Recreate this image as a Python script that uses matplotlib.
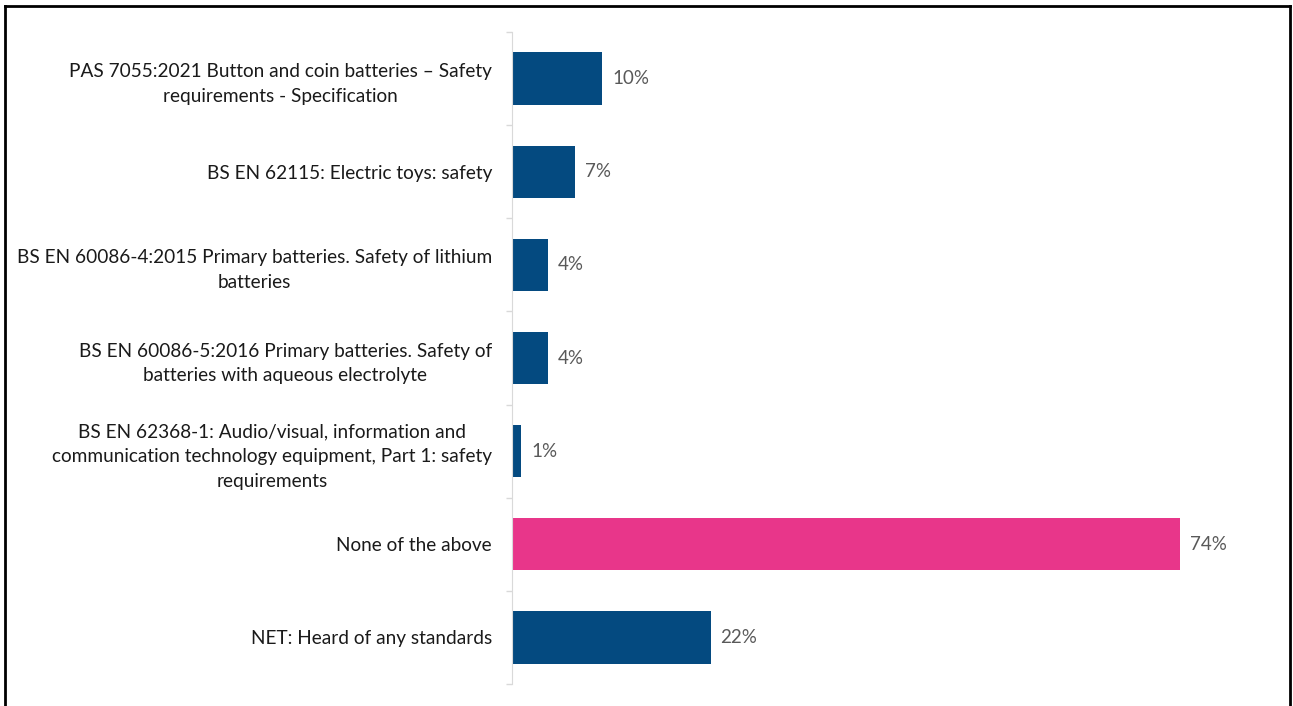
import matplotlib
matplotlib.use("Agg")
import matplotlib.pyplot as plt
import numpy as np

plt.rcParams.update({
    "font.family": ["Lato", "DejaVu Sans"],
    "font.size": 12,
})

# Survey answers, top to bottom
labels = [
    "PAS 7055:2021 Button and coin batteries \u2013 Safety\nrequirements - Specification",
    "BS EN 62115: Electric toys: safety",
    "BS EN 60086-4:2015 Primary batteries. Safety of lithium\nbatteries",
    "BS EN 60086-5:2016 Primary batteries. Safety of\nbatteries with aqueous electrolyte",
    "BS EN 62368-1: Audio/visual, information and\ncommunication technology equipment, Part 1: safety\nrequirements",
    "None of the above",
    "NET: Heard of any standards",
]
values = [10, 7, 4, 4, 1, 74, 22]
highlight = "None of the above"

NAVY = "#044a80"
PINK = "#e8368a"

W, H = 1293, 706
fig = plt.figure(figsize=(W / 100, H / 100), dpi=100)
ax = fig.add_axes([512 / W, 1 - 684 / H, (1234 - 512) / W, (684 - 32) / H])

n = len(labels)
pos = np.arange(n)
colors = [PINK if l == highlight else NAVY for l in labels]
bars = ax.barh(pos, values, height=0.56, color=colors)

ax.set_ylim(n - 0.5, -0.5)
ax.set_xlim(0, 80)

for b, v in zip(bars, values):
    ax.text(b.get_width() + 1.1, b.get_y() + b.get_height() / 2, f"{v}%",
            va="center", ha="left", color="#595959", fontsize=13.5)

ax.set_yticks(pos)
ax.set_yticklabels(labels, fontsize=13.7)
for t in ax.get_yticklabels():
    t.set_multialignment("center")
    t.set_linespacing(1.55)
    t.set_color("#1a1a1a")
ax.tick_params(axis="y", which="major", length=0, pad=14.4)
ax.set_yticks(np.arange(-0.5, n, 1), minor=True)
ax.tick_params(axis="y", which="minor", length=4.5, color="#d9d9d9", width=1)

ax.set_xticks([])
for s in ["top", "right", "bottom"]:
    ax.spines[s].set_visible(False)
ax.spines["left"].set_color("#d9d9d9")

# frame round the figure (bottom edge falls outside the canvas)
fig.add_artist(plt.Line2D([5 / W, 5 / W], [0, 1 - 6 / H], transform=fig.transFigure, color="black", lw=2))
fig.add_artist(plt.Line2D([1290 / W, 1290 / W], [0, 1 - 6 / H], transform=fig.transFigure, color="black", lw=2))
fig.add_artist(plt.Line2D([5 / W, 1290 / W], [1 - 6 / H, 1 - 6 / H], transform=fig.transFigure, color="black", lw=2))

fig.savefig("out.png", dpi=100)
